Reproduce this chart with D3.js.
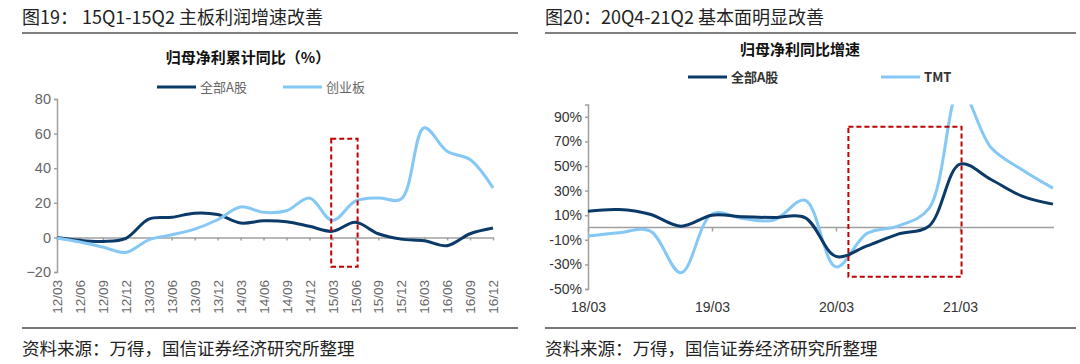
<!DOCTYPE html>
<html>
<head>
<meta charset="utf-8">
<script src="https://cdn.jsdelivr.net/npm/d3@7/dist/d3.min.js"></script>
<style>
  body { margin: 0; background: #fff; }
  svg text { font-family: "Noto Sans CJK SC", "Noto Sans", sans-serif; }
</style>
</head>
<body>
<script>
'use strict';

// left chart: 归母净利累计同比（%）
const leftDates = ["12/03","12/06","12/09","12/12","13/03","13/06","13/09","13/12",
                   "14/03","14/06","14/09","14/12","15/03","15/06","15/09","15/12",
                   "16/03","16/06","16/09","16/12"];
const leftAll = [0, -1.7, -2.3, -0.5, 10.6, 11.6, 14, 13.2, 8.3, 9.6, 9.1, 6.4,
                 3.5, 8.7, 2.1, -1, -1.9, -4.8, 2.1, 5.4];
const leftGem = [-0.4, -2.7, -5.6, -8.7, -1.4, 1.5, 4.8, 10.2, 17.6, 14.5, 15.4, 22.8,
                 9.7, 20.9, 22.8, 22.2, 63.4, 49.8, 45, 28.6];
const leftTicks = [-20, 0, 20, 40, 60, 80];
const leftBox = {from: 11.95, to: 13.1, lo: -17, hi: 57};

// right chart: 归母净利同比增速
const rightDates = ["18/03","18/06","18/09","18/12","19/03","19/06","19/09","19/12",
                    "20/03","20/06","20/09","20/12","21/03","21/06","21/09","21/12"];
const rightAll = [13.3, 14.6, 10.8, 1.1, 10, 8.7, 8.1, 8.1,
                  -23.5, -15, -5.4, 1.1, 51.5, 39, 25.5, 19];
const rightTmt = [-7, -4.3, -2.7, -36.8, 11, 7.3, 6, 22.2,
                  -32, -4.8, 1.1, 15.5, 112, 65, 47, 32];
const rightTicks = [-50, -30, -10, 10, 30, 50, 70, 90];
const rightLabels = ["18/03", "19/03", "20/03", "21/03"];
const rightBox = {from: 8.4, to: 12.05, lo: -40, hi: 82};

const dark = "#0b3a68", light = "#85c8f5", axisGray = "#a0a0a0";

const svg = d3.select("body").append("svg")
    .attr("width", 1080).attr("height", 364);

// ---------- page furniture ----------
function header(x0, x1, title, sub, subX, subY) {
  svg.append("text").attr("x", x0).attr("y", 24)
      .attr("font-size", 18).attr("fill", "#222").text(title);
  svg.append("line").attr("x1", x0).attr("x2", x1).attr("y1", 33).attr("y2", 33)
      .attr("stroke", "#555").attr("stroke-width", 1.5);
  svg.append("text").attr("x", subX).attr("y", subY).attr("text-anchor", "middle")
      .attr("font-size", 15).attr("font-weight", "bold").attr("fill", "#111").text(sub);
  svg.append("line").attr("x1", x0).attr("x2", x1).attr("y1", 328).attr("y2", 328)
      .attr("stroke", "#777").attr("stroke-width", 2);
  svg.append("text").attr("x", x0).attr("y", 355)
      .attr("font-size", 17.5).attr("fill", "#222").text("资料来源：万得，国信证券经济研究所整理");
}
header(22, 518, "图19： 15Q1-15Q2 主板利润增速改善", "归母净利累计同比（%）", 248, 63);
header(545, 1076, "图20：20Q4-21Q2 基本面明显改善", "归母净利同比增速", 800, 55);

function legend(items, y, weight, fill) {
  items.forEach((d) => {
    svg.append("line").attr("x1", d.x).attr("x2", d.x + 39).attr("y1", y).attr("y2", y)
        .attr("stroke", d.color).attr("stroke-width", 3);
    svg.append("text").attr("x", d.x + 43).attr("y", y).attr("dy", "0.35em")
        .attr("font-size", 13).attr("font-weight", weight).attr("fill", fill).text(d.name);
  });
}
legend([{x: 157, color: dark, name: "全部A股"}, {x: 283, color: light, name: "创业板"}], 87, "normal", "#666");
legend([{x: 688, color: dark, name: "全部A股"}, {x: 881, color: light, name: "TMT"}], 77, "bold", "#333");

// ---------- left chart ----------
const xL = d3.scalePoint().domain(leftDates).range([57, 493]);
const yL = d3.scaleLinear().domain([-20, 80]).range([272, 99]);
const xLi = d3.scaleLinear().domain([0, leftDates.length - 1]).range([57, 493]);

const gL = svg.append("g");
const yAxisL = gL.append("g").attr("transform", "translate(57,0)")
    .call(d3.axisLeft(yL).tickValues(leftTicks).tickSize(3).tickFormat(d3.format("d")));
const xAxisL = gL.append("g").attr("transform", `translate(0,${yL(0)})`)
    .call(d3.axisBottom(xL).tickSize(3).tickSizeOuter(0));
[yAxisL, xAxisL].forEach((a) => {
  a.selectAll("path, line").attr("stroke", axisGray).attr("stroke-width", 1.5);
  a.selectAll("text").attr("fill", "#666").attr("font-size", 14.5)
      .style("font-family", "'Liberation Sans', Arial, sans-serif");
});
xAxisL.selectAll("text")
    .attr("x", 0).attr("y", 0).attr("dy", "0.35em")
    .attr("text-anchor", "end").attr("font-size", 13.5)
    .attr("transform", `translate(0,${280 - yL(0)}) rotate(-90)`);

const lineL = (vals) => d3.line()
    .x((d, i) => xL(leftDates[i])).y((d) => yL(d))
    .curve(d3.curveCatmullRom.alpha(0.5))(vals);
gL.append("path").attr("d", lineL(leftAll)).attr("fill", "none")
    .attr("stroke", dark).attr("stroke-width", 3);
gL.append("path").attr("d", lineL(leftGem)).attr("fill", "none")
    .attr("stroke", light).attr("stroke-width", 3);
gL.append("rect")
    .attr("x", xLi(leftBox.from)).attr("width", xLi(leftBox.to) - xLi(leftBox.from))
    .attr("y", yL(leftBox.hi)).attr("height", yL(leftBox.lo) - yL(leftBox.hi))
    .attr("fill", "none").attr("stroke", "#c00000").attr("stroke-width", 2)
    .attr("stroke-dasharray", "5,3");

// ---------- right chart ----------
const xR = d3.scalePoint().domain(rightDates).range([588, 1053]);
const yR = d3.scaleLinear().domain([-50, 100]).range([289, 104.5]);
const xRi = d3.scaleLinear().domain([0, rightDates.length - 1]).range([588, 1053]);

const gR = svg.append("g");
svg.append("clipPath").attr("id", "clipR").append("rect")
    .attr("x", 580).attr("y", yR(100)).attr("width", 490).attr("height", yR(-50) - yR(100));

const yAxisR = gR.append("g").attr("transform", "translate(588,0)")
    .call(d3.axisLeft(yR).tickValues(rightTicks).tickSize(3).tickFormat((d) => d + "%"));
const xAxisR = gR.append("g").attr("transform", `translate(0,${yR(0)})`)
    .call(d3.axisBottom(xR).tickValues(rightLabels).tickSize(4).tickSizeOuter(0));
xAxisR.selectAll("text").attr("y", 0).attr("dy", "0.35em")
    .attr("transform", `translate(0,${307 - yR(0)})`);
[yAxisR, xAxisR].forEach((a) => {
  a.selectAll("path, line").attr("stroke", axisGray).attr("stroke-width", 1.5);
  a.selectAll("text").attr("fill", "#333").attr("font-size", 14)
      .style("font-family", "'Liberation Sans', Arial, sans-serif");
});
xAxisR.select(".domain").attr("d", `M588,0H1054`);

const lineR = (vals) => d3.line()
    .x((d, i) => xR(rightDates[i])).y((d) => yR(d))
    .curve(d3.curveCatmullRom.alpha(0.5))(vals);
const plotR = gR.append("g").attr("clip-path", "url(#clipR)");
plotR.append("path").attr("d", lineR(rightTmt)).attr("fill", "none")
    .attr("stroke", light).attr("stroke-width", 3);
plotR.append("path").attr("d", lineR(rightAll)).attr("fill", "none")
    .attr("stroke", dark).attr("stroke-width", 3);
gR.append("rect")
    .attr("x", xRi(rightBox.from)).attr("width", xRi(rightBox.to) - xRi(rightBox.from))
    .attr("y", yR(rightBox.hi)).attr("height", yR(rightBox.lo) - yR(rightBox.hi))
    .attr("fill", "none").attr("stroke", "#c00000").attr("stroke-width", 2)
    .attr("stroke-dasharray", "5,3");
</script>
</body>
</html>
